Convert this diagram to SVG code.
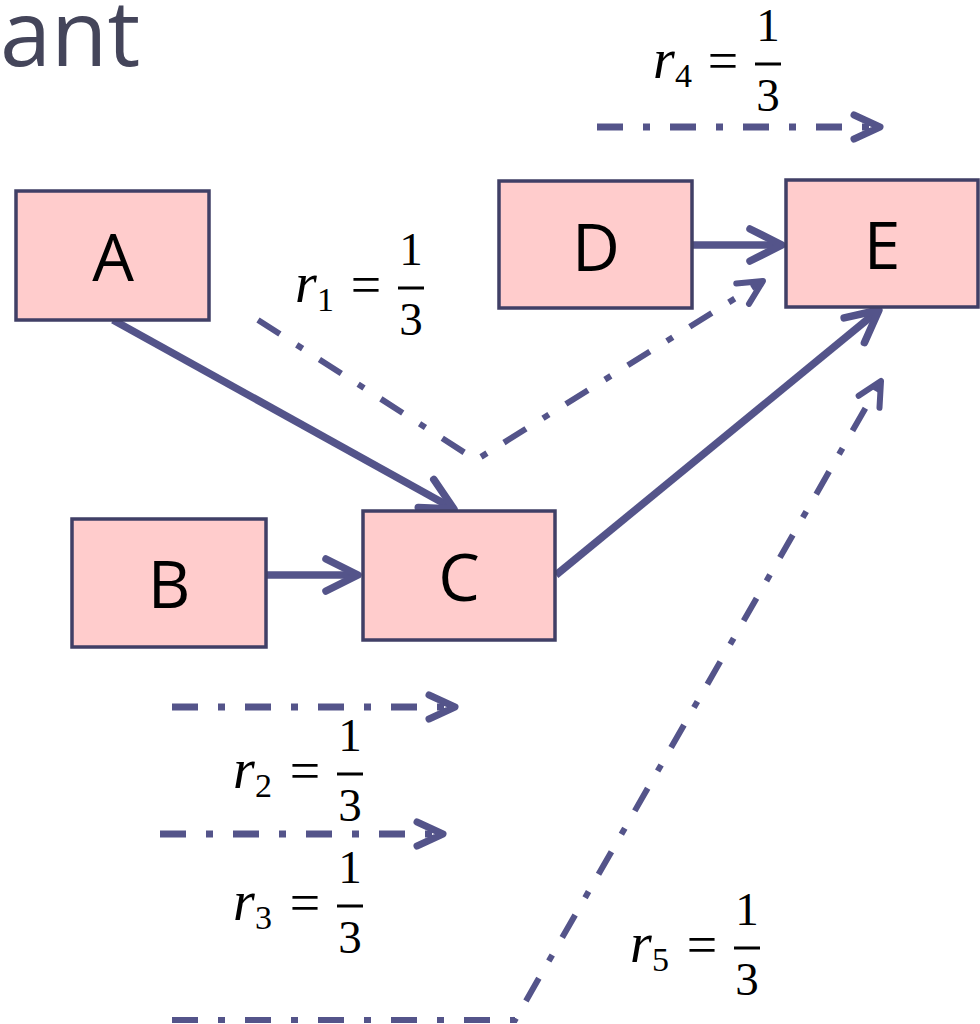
<svg xmlns="http://www.w3.org/2000/svg" width="980" height="1024" viewBox="0 0 980 1024">
<style>
.box{fill:#ffcccc;stroke:#403f66;stroke-width:3.5}
.lbl{font-family:"Open Sans","Noto Sans",sans-serif;font-size:66px;fill:#000;text-anchor:middle}
.solid{fill:none;stroke:#54548a;stroke-width:7.5}
.dash{fill:none;stroke:#54548a;stroke-width:7;stroke-dasharray:26 20 7 20}
.thin{stroke-width:6}
.mi{font-family:"Liberation Serif","DejaVu Serif",serif;font-style:italic;font-size:56px;fill:#000}
.sub{font-family:"Liberation Serif","DejaVu Serif",serif;font-size:34px;fill:#000}
.eq{font-family:"Liberation Serif","DejaVu Serif",serif;font-size:54px;fill:#000;text-anchor:middle}
.mn{font-family:"Liberation Serif","DejaVu Serif",serif;font-size:47px;fill:#000;text-anchor:middle}
</style>
<defs>
<marker id="head" markerUnits="userSpaceOnUse" markerWidth="80" markerHeight="80" viewBox="-40 -40 80 80" refX="0" refY="0" orient="auto" overflow="visible">
<path d="M-32,-16 L0,0 L-32,16" fill="none" stroke="#54548a" stroke-width="7.5" stroke-linecap="round" stroke-linejoin="round"/>
</marker>
<marker id="dhead" markerUnits="userSpaceOnUse" markerWidth="80" markerHeight="80" viewBox="-40 -40 80 80" refX="0" refY="0" orient="auto" overflow="visible">
<path d="M-26,-12 L0,0 L-26,12" fill="none" stroke="#54548a" stroke-width="7" stroke-linecap="round" stroke-linejoin="round"/>
</marker>
<marker id="shead" markerUnits="userSpaceOnUse" markerWidth="80" markerHeight="80" viewBox="-40 -40 80 80" refX="0" refY="0" orient="auto" overflow="visible">
<path d="M-24,-12 L0,0 L-24,12" fill="none" stroke="#54548a" stroke-width="6" stroke-linecap="round" stroke-linejoin="round"/>
</marker>
</defs>

<text x="0" y="66" font-family="'Open Sans','Noto Sans',sans-serif" font-size="92" fill="#44455a">ant</text>

<g id="connectors">
<path class="solid" d="M113,320 L454,509" marker-end="url(#head)"/>
<path class="solid" d="M266,575 L358,575" marker-end="url(#head)"/>
<path class="solid" d="M556,575 L879,310" marker-end="url(#head)"/>
<path class="solid" d="M692,245 L782,245" marker-end="url(#head)"/>
<path class="dash thin" d="M258,320 L476,460 L763,281" marker-end="url(#shead)"/>
<path class="dash" d="M597,127 L880,127" marker-end="url(#dhead)"/>
<path class="dash" d="M172,707 L455,707" marker-end="url(#dhead)"/>
<path class="dash" d="M160,834 L443,834" marker-end="url(#dhead)"/>
<path class="dash thin" d="M172,1020 L515,1020 L881,381" marker-end="url(#shead)"/>
</g>

<g id="A"><rect class="box" x="16" y="191" width="193" height="129"/><text class="lbl" x="113" y="281">A</text></g>
<g id="B"><rect class="box" x="72" y="519" width="194" height="128"/><text class="lbl" x="169" y="608">B</text></g>
<g id="C"><rect class="box" x="363" y="511" width="192" height="129"/><text class="lbl" x="459" y="601">C</text></g>
<g id="D"><rect class="box" x="499" y="181" width="193" height="127"/><text class="lbl" x="596" y="271">D</text></g>
<g id="E"><rect class="box" x="786" y="180" width="192" height="127"/><text class="lbl" x="882" y="269">E</text></g>

<g id="r1">
<text class="mi" x="295" y="302">r</text><text class="sub" x="317" y="311">1</text>
<text class="eq" x="366" y="303">=</text>
<rect x="398" y="286.5" width="26" height="3"/>
<text class="mn" x="411" y="265">1</text><text class="mn" x="411" y="335">3</text>
</g>
<g id="r4">
<text class="mi" x="653" y="78">r</text><text class="sub" x="675" y="87">4</text>
<text class="eq" x="723" y="79">=</text>
<rect x="755" y="62.5" width="26" height="3"/>
<text class="mn" x="768" y="41">1</text><text class="mn" x="768" y="111">3</text>
</g>
<g id="r2">
<text class="mi" x="233" y="788">r</text><text class="sub" x="255" y="797">2</text>
<text class="eq" x="305" y="789">=</text>
<rect x="337" y="772.5" width="26" height="3"/>
<text class="mn" x="350" y="751">1</text><text class="mn" x="350" y="821">3</text>
</g>
<g id="r3">
<text class="mi" x="233" y="920">r</text><text class="sub" x="255" y="929">3</text>
<text class="eq" x="305" y="921">=</text>
<rect x="337" y="904.5" width="26" height="3"/>
<text class="mn" x="350" y="883">1</text><text class="mn" x="350" y="953">3</text>
</g>
<g id="r5">
<text class="mi" x="630" y="962">r</text><text class="sub" x="652" y="971">5</text>
<text class="eq" x="702" y="963">=</text>
<rect x="734" y="946.5" width="26" height="3"/>
<text class="mn" x="747" y="925">1</text><text class="mn" x="747" y="995">3</text>
</g>
</svg>
